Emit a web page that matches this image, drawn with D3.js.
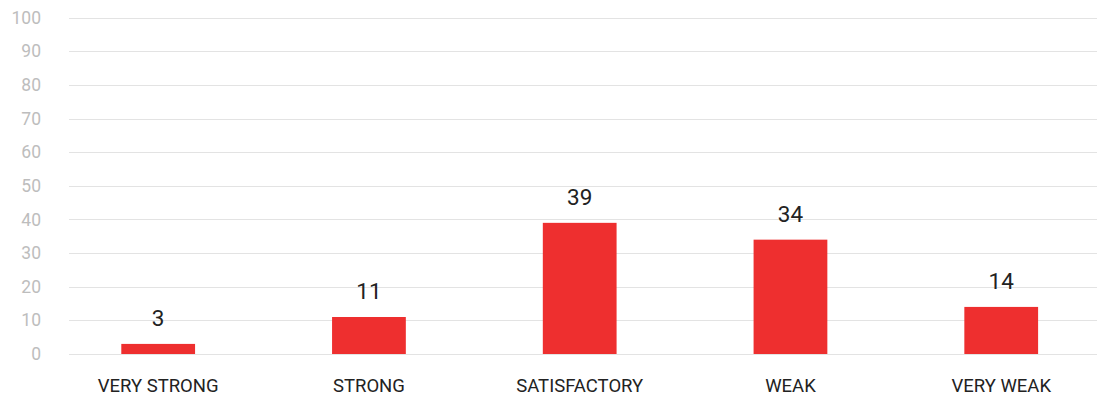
<!DOCTYPE html>
<html><head><meta charset="utf-8">
<script src="https://cdn.jsdelivr.net/npm/d3@7"></script>
<style>body{margin:0;background:#fff;}svg{display:block;font-family:Roboto,sans-serif;}</style>
</head><body>
<svg id="chart" width="1097" height="396"></svg>
<script>
const categories = ["VERY STRONG","STRONG","SATISFACTORY","WEAK","VERY WEAK"];
const values = [3,11,39,34,14];
const yTicks = [0,10,20,30,40,50,60,70,80,90,100];

const svg = d3.select("#chart");
const x = d3.scaleBand().domain(categories).range([52.8,1106.6]).paddingInner(0.65).paddingOuter(0.325);
const y = d3.scaleLinear().domain([0,100]).range([354,17.7]);

const grid = svg.append("g");
grid.selectAll("line").data(yTicks).join("line")
  .attr("x1",69).attr("x2",1097)
  .attr("y1",d=>Math.round(y(d))+0.5).attr("y2",d=>Math.round(y(d))+0.5)
  .attr("stroke","#e3e3e3").attr("stroke-width",1);

const yAxis = d3.axisLeft(y).tickValues(yTicks).tickSize(0).tickPadding(0);
const ya = svg.append("g").attr("transform","translate(41,0)").call(yAxis);
ya.select(".domain").remove();
ya.selectAll("text").attr("fill","#bdbdbd").style("font-size","17.5px").style("font-family","Roboto");

svg.append("g").selectAll("rect").data(values).join("rect")
  .attr("x",(d,i)=>x(categories[i])).attr("width",x.bandwidth())
  .attr("y",d=>y(d)).attr("height",d=>y(0)-y(d))
  .attr("fill","#ee2f2f");

svg.append("g").selectAll("text").data(values).join("text")
  .attr("x",(d,i)=>x(categories[i])+x.bandwidth()/2)
  .attr("y",d=>y(d)-18)
  .attr("text-anchor","middle")
  .attr("fill","#222")
  .style("font-size","22.5px").style("font-weight","400")
  .text(d=>d);

const xAxis = d3.axisBottom(x).tickSize(0).tickPadding(0);
const xa = svg.append("g").attr("transform","translate(0,378)").call(xAxis);
xa.select(".domain").remove();
xa.selectAll("text").attr("fill","#222").attr("dy","0").attr("y",13.5).style("font-size","18.5px").style("font-family","Roboto");
</script>
</body></html>
